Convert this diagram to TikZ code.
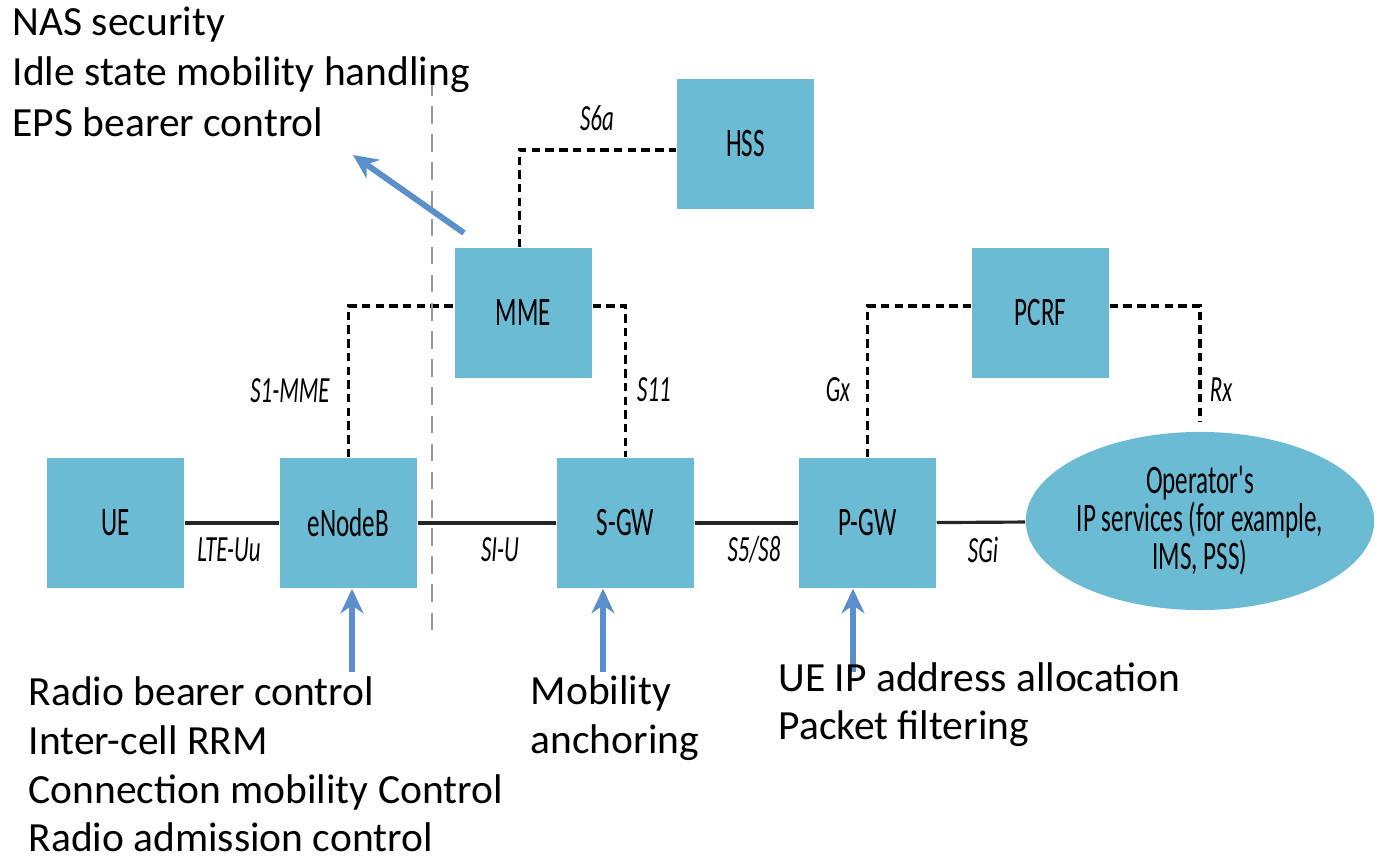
\documentclass[tikz,border=0pt]{standalone}
\usepackage{fontspec}
\setmainfont{Carlito}
\newfontfamily\boxfont[FakeStretch=0.62]{Carlito}
\usetikzlibrary{calc,shapes.geometric,arrows.meta}
\definecolor{epcbox}{RGB}{108,187,212}
\definecolor{fnarrow}{RGB}{91,143,204}
\definecolor{divgray}{RGB}{150,150,150}

\begin{document}
\begin{tikzpicture}[x=0.01cm,y=-0.01cm,
  epc/.style={rectangle,fill=epcbox,minimum width=1.37cm,minimum height=1.3cm,
    inner sep=0pt,font=\boxfont\fontsize{11.5}{12}\selectfont},
  iface/.style={inner sep=0pt,font=\boxfont\itshape\fontsize{10.5}{11}\selectfont},
  link/.style={line width=0.9pt,draw=black!85},
  ctrl/.style={line width=0.9pt,dash pattern=on 2.4pt off 1.5pt},
  fn/.style={line width=1.7pt,draw=fnarrow,-{Stealth[length=7pt,width=6.5pt]}},
  fntext/.style={anchor=base west,align=left,inner sep=0pt}]
            \useasboundingbox (0,0) rectangle (1399,865);

            \node[epc] (UE) at (115.5,523) {UE};
            \node[epc] (eNB) at (348.5,523) {eNodeB};
            \node[epc] (SGW) at (625.5,523) {S-GW};
            \node[epc] (PGW) at (867.5,523) {P-GW};
            \node[epc] (MME) at (523.5,313) {MME};
            \node[epc] (HSS) at (745.5,144) {HSS};
            \node[epc] (PCRF) at (1040.5,313) {PCRF};
            \node[ellipse,fill=epcbox,minimum width=3.3cm,minimum height=1.78cm,inner sep=0pt,
              align=center,font=\boxfont\fontsize{11.5}{10.8}\selectfont] (OPS) at (1200,521)
              {Operator's\\IP services (for example,\\IMS, PSS)};

            \draw[link] (UE) -- (eNB);
            \draw[link] (eNB) -- (SGW);
            \draw[link] (SGW) -- (PGW);
            \draw[link] (PGW) -- (OPS);

            \draw[ctrl] (eNB.north) |- ([yshift=2pt]MME.west);
            \draw[ctrl] ([yshift=2pt]MME.east) -| (SGW.north);
            \draw[ctrl] ([xshift=-1.2pt]MME.north) |- ([yshift=-1.7pt]HSS.west);
            \draw[ctrl] (PGW.north) |- ([yshift=2pt]PCRF.west);
            \draw[ctrl] ([yshift=2pt]PCRF.east) -| ([yshift=2.5pt]OPS.north);

            \node[iface] (luu) at (229,550) {LTE-Uu};
            \node[iface] (s1u) at (500,550) {SI-U};
            \node[iface] (s58) at (754,550) {S5/S8};
            \node[iface] (sgi) at (983,550) {SGi};
            \node[iface] (s1mme) at (290,391) {S1-MME};
            \node[iface] (s11) at (654,390) {S11};
            \node[iface] (gx) at (838,390) {Gx};
            \node[iface] (rx) at (1221,390) {Rx};
            \node[iface] (s6a) at (597,118) {S6a};

            \coordinate (divtop) at (432,78);
            \coordinate (divbot) at (432,640);
            \draw[divgray,line width=0.6pt,dash pattern=on 5pt off 3pt] (divtop) -- (divbot);

            \coordinate (mmefn) at (464,233);
            \coordinate (mmetip) at (353,155);
            \coordinate (enbfn) at (352,672);
            \coordinate (sgwfn) at (603,672);
            \coordinate (pgwfn) at (853,672);
            \draw[fn] (mmefn) -- (mmetip);
            \draw[fn] (enbfn) -- (enbfn |- eNB.south);
            \draw[fn] (sgwfn) -- (sgwfn |- SGW.south);
            \draw[fn] (pgwfn) -- (pgwfn |- PGW.south);

            \node[fntext,font=\fontsize{11.8}{14.5}\selectfont] (mmetxt) at (12,137)
              {NAS security\\Idle state mobility handling\\EPS bearer control};
            \node[fntext,font=\fontsize{11.8}{13.9}\selectfont] (enbtxt) at (28,852)
              {Radio bearer control\\Inter-cell RRM\\Connection mobility Control\\Radio admission control};
            \node[fntext,font=\fontsize{11.8}{14}\selectfont] (sgwtxt) at (530,754)
              {Mobility\\anchoring};
            \node[fntext,font=\fontsize{11.8}{13.7}\selectfont] (pgwtxt) at (778,740)
              {UE IP address allocation\\Packet filtering};
          \end{tikzpicture}
\end{document}
